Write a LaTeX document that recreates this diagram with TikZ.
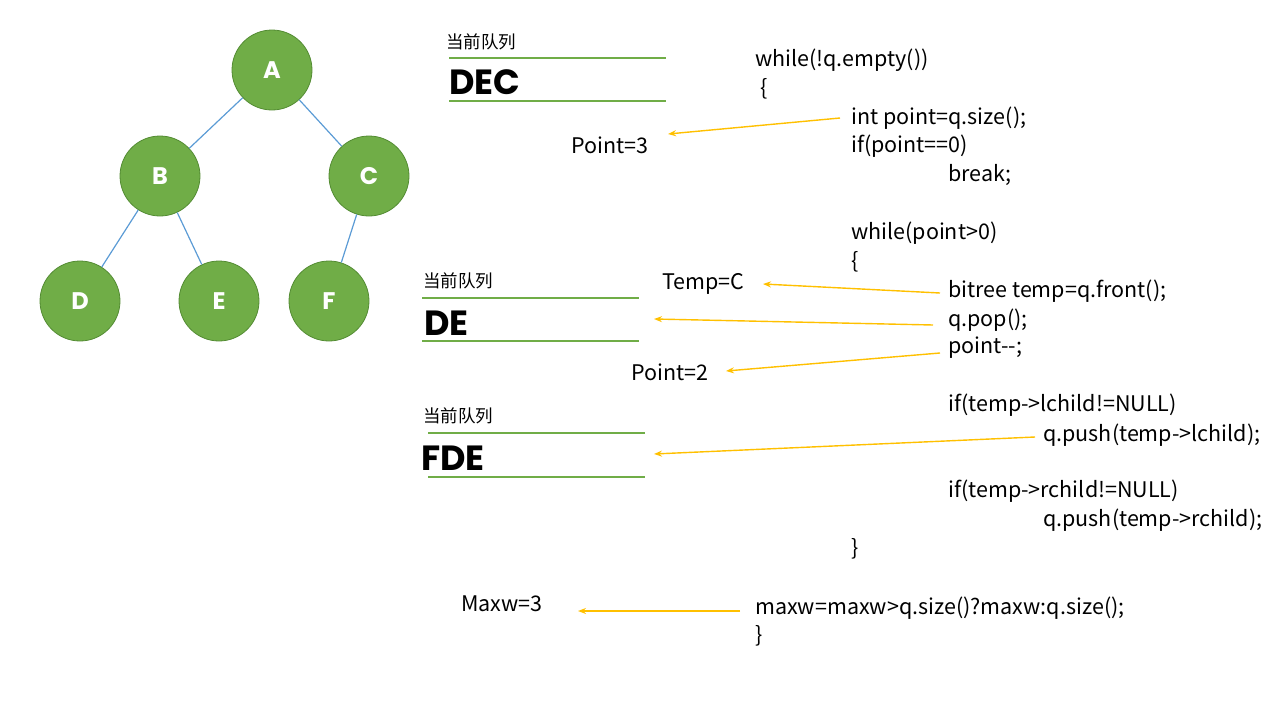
\documentclass[tikz,border=0pt]{standalone}
\usepackage{fontspec}
\usetikzlibrary{arrows.meta}
\setmainfont{Noto Sans CJK SC}
\newfontfamily\heavy{Poppins}[UprightFont=* Bold]
\begin{document}
\begin{tikzpicture}[x=1pt,y=-1pt,
  tn/.style={circle,fill={rgb,255:red,112;green,173;blue,71},draw={rgb,255:red,84;green,140;blue,52},line width=0.8pt,minimum size=80pt,inner sep=0,text=white,font=\heavy\fontsize{24}{24}\selectfont},
  te/.style={draw={rgb,255:red,91;green,155;blue,213},line width=1.2pt},
  code/.style={anchor=west,inner sep=0,font=\fontsize{21.5}{21.5}\selectfont},
  ql/.style={draw={rgb,255:red,112;green,173;blue,71},line width=1.5pt},
  qlab/.style={anchor=west,inner sep=0,font=\fontsize{17.5}{17.5}\selectfont},
  qtxt/.style={anchor=west,inner sep=0,font=\heavy\fontsize{35}{35}\selectfont},
  ar/.style={draw={rgb,255:red,255;green,192;blue,0},line width=1.4pt,-{Stealth[length=8pt,width=6pt]}}]
\useasboundingbox (0,0) rectangle (1280,720);
\node[tn] (A) at (272,70) {A};
\node[tn] (B) at (160,176) {B};
\node[tn] (C) at (369,176) {C};
\node[tn] (D) at (80,301) {D};
\node[tn] (E) at (219,301) {E};
\node[tn] (F) at (329,301) {F};
\draw[te] (A) -- (B); \draw[te] (A) -- (C);
\draw[te] (B) -- (D); \draw[te] (B) -- (E); \draw[te] (C) -- (F);
% queues
\node[qlab] (q1l) at (446,42) {当前队列};
\draw[ql] (449,58) coordinate (q1a) -- (666,58) coordinate (q1b);
\draw[ql] (449,101) coordinate (q1c) -- (666,101) coordinate (q1d);
\node[qtxt] (q1) at (449,82) {DEC};
\node[qlab] (q2l) at (423,281) {当前队列};
\draw[ql] (422,298) coordinate (q2a) -- (639,298) coordinate (q2b);
\draw[ql] (422,341) coordinate (q2c) -- (639,341) coordinate (q2d);
\node[qtxt] (q2) at (424,323) {DE};
\node[qlab] (q3l) at (423,416) {当前队列};
\draw[ql] (428,433) coordinate (q3a) -- (645,433) coordinate (q3b);
\draw[ql] (428,477) coordinate (q3c) -- (645,477) coordinate (q3d);
\node[qtxt] (q3) at (421,458) {FDE};
% code
\node[code] (c1) at (755,60) {while(!q.empty())};
\node[code] (c2) at (760,89) {\{};
\node[code] (c3) at (851,118) {int point=q.size();};
\node[code] (c4) at (851,146) {if(point==0)};
\node[code] (c5) at (948,175) {break;};
\node[code] (c6) at (851,233) {while(point>0)};
\node[code] (c7) at (851,262) {\{};
\node[code] (c8) at (948,291) {bitree temp=q.front();};
\node[code] (c9) at (948,320) {q.pop();};
\node[code] (c10) at (948,348) {point-{}-;};
\node[code] (c11) at (948,405) {if(temp->lchild!=NULL)};
\node[code] (c12) at (1043,435) {q.push(temp->lchild);};
\node[code] (c13) at (948,491) {if(temp->rchild!=NULL)};
\node[code] (c14) at (1043,520) {q.push(temp->rchild);};
\node[code] (c15) at (851,549) {\}};
\node[code] (c16) at (755,608) {maxw=maxw>q.size()?maxw:q.size();};
\node[code] (c17) at (755,636) {\}};
% labels
\node[code] (p3) at (571,145) {Point=3};
\node[code] (tc) at (662,284) {Temp=C};
\node[code] (p2) at (631,372) {Point=2};
\node[code] (mw) at (461,604) {Maxw=3};
% arrows
\coordinate (s1) at (840,118); \coordinate (e1) at (668,134);
\coordinate (s2) at (940,293); \coordinate (e2) at (763,284);
\coordinate (s3) at (933,325); \coordinate (e3) at (654,319);
\coordinate (s4) at (940,353); \coordinate (e4) at (726,371);
\coordinate (s5) at (1035,437); \coordinate (e5) at (654,454);
\coordinate (s6) at (740,611); \coordinate (e6) at (578,611);
\draw[ar] (s1) -- (e1);
\draw[ar] (s2) -- (e2);
\draw[ar] (s3) -- (e3);
\draw[ar] (s4) -- (e4);
\draw[ar] (s5) -- (e5);
\draw[ar] (s6) -- (e6);
\end{tikzpicture}
\end{document}
